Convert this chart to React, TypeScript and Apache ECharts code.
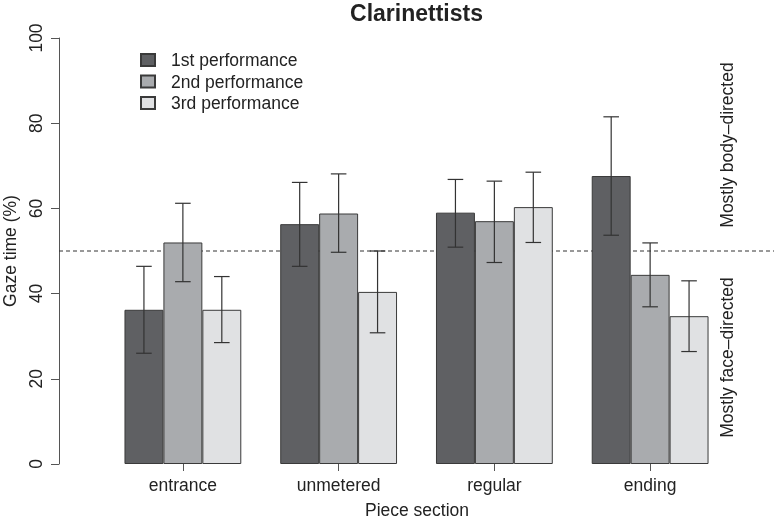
import React, { useEffect, useRef } from 'react';
import * as echarts from 'echarts';

const categories = ['entrance', 'unmetered', 'regular', 'ending'];
const seriesNames = ['1st performance', '2nd performance', '3rd performance'];
const meanFirst = [36.2, 56.3, 59.0, 67.6];
const meanSecond = [52.0, 58.8, 57.0, 44.4];
const meanThird = [36.2, 40.4, 60.3, 34.7];
const lowFirst = [26.0, 46.4, 50.9, 53.7];
const highFirst = [46.4, 66.1, 66.8, 81.5];
const lowSecond = [42.8, 49.7, 47.3, 36.9];
const highSecond = [61.2, 68.1, 66.4, 51.9];
const lowThird = [28.5, 30.8, 52.0, 26.4];
const highThird = [44.0, 50.0, 68.5, 43.0];
const referenceLevel = 50;
const yMin = 0;
const yMax = 100;
const yInterval = 20;

const colors = ['#5f6063', '#a9abae', '#e0e1e3'];
const FONT = "'Liberation Sans', Arial, Helvetica, sans-serif";

export default function App() {
  const ref = useRef<HTMLDivElement>(null);
  useEffect(() => {
    if (!ref.current) return;
    const chart = echarts.init(ref.current, null, { renderer: 'svg' });
    const means = [meanFirst, meanSecond, meanThird];
    const lows = [lowFirst, lowSecond, lowThird];
    const highs = [highFirst, highSecond, highThird];
    const errData: number[][] = [];
    for (let s = 0; s < 3; s++) {
      for (let c = 0; c < categories.length; c++) {
        errData.push([c, s, lows[s][c], highs[s][c]]);
      }
    }
    const barSeries = means.map((m, i) => ({
      type: 'bar',
      name: seriesNames[i],
      xAxisIndex: 0,
      yAxisIndex: 0,
      data: m,
      barGap: '0%',
      barCategoryGap: '25%',
      z: 3,
      itemStyle: { color: colors[i], borderColor: '#3a3a3a', borderWidth: 1 },
    }));
    chart.setOption({
      animation: false,
      textStyle: { fontFamily: FONT },
      grid: [
        { left: 105, right: 47, top: 38, bottom: 55 },
        { left: 59, right: 1, top: 38, bottom: 55 },
      ],
      legend: {
        data: seriesNames,
        orient: 'vertical',
        left: 140,
        top: 51,
        padding: 0,
        itemWidth: 14,
        itemHeight: 12,
        itemGap: 3.5,
        icon: 'rect',
        selectedMode: false,
        textStyle: { fontSize: 17.5, color: '#222', fontFamily: FONT, padding: [0, 0, 0, 11] },
      },
      xAxis: [
        {
          type: 'category',
          gridIndex: 0,
          data: categories,
          axisLine: { show: false },
          axisTick: { show: true, alignWithLabel: true, length: 7, lineStyle: { color: '#555' } },
          axisLabel: { fontSize: 17.5, color: '#222', margin: 12, fontFamily: FONT },
        },
        { type: 'value', gridIndex: 1, min: 0, max: 1, show: false },
      ],
      yAxis: [
        { type: 'value', gridIndex: 0, min: yMin, max: yMax, show: false },
        {
          type: 'value',
          gridIndex: 1,
          min: yMin,
          max: yMax,
          interval: yInterval,
          axisLine: { show: true, lineStyle: { color: '#555', width: 1 } },
          axisTick: { show: true, length: 8, lineStyle: { color: '#555' } },
          axisLabel: { rotate: 90, fontSize: 17.5, color: '#222', margin: 14, fontFamily: FONT },
          splitLine: { show: false },
        },
      ],
      series: [
        {
          type: 'line',
          xAxisIndex: 1,
          yAxisIndex: 1,
          data: [[0, referenceLevel], [1, referenceLevel]],
          symbol: 'none',
          silent: true,
          z: 1,
          lineStyle: { color: '#333', width: 1, type: [4, 3] },
        },
        ...barSeries,
        {
          type: 'custom',
          xAxisIndex: 0,
          yAxisIndex: 0,
          z: 5,
          silent: true,
          encode: { x: 0, y: [2, 3] },
          data: errData,
          renderItem: (params: any, api: any) => {
            const c = api.value(0);
            const s = api.value(1);
            const lo = api.coord([c, api.value(2)]);
            const hi = api.coord([c, api.value(3)]);
            const band = api.size([1, 0])[0];
            const bw = (band * 0.75) / 3;
            const x = lo[0] + (s - 1) * bw;
            const cap = bw * 0.2;
            const st = { stroke: '#333', lineWidth: 1.2 };
            return {
              type: 'group',
              children: [
                { type: 'line', shape: { x1: x, y1: lo[1], x2: x, y2: hi[1] }, style: st },
                { type: 'line', shape: { x1: x - cap, y1: lo[1], x2: x + cap, y2: lo[1] }, style: st },
                { type: 'line', shape: { x1: x - cap, y1: hi[1], x2: x + cap, y2: hi[1] }, style: st },
              ],
            };
          },
        },
      ],
      graphic: [
        {
          type: 'text', x: 416.5, y: 12.5,
          style: { text: 'Clarinettists', font: `bold 23px ${FONT}`, fill: '#222', textAlign: 'center', textVerticalAlign: 'middle' },
        },
        {
          type: 'text', x: 10, y: 251, rotation: Math.PI / 2,
          style: { text: 'Gaze time (%)', font: `17.5px ${FONT}`, fill: '#222', textAlign: 'center', textVerticalAlign: 'middle' },
        },
        {
          type: 'text', x: 417, y: 510,
          style: { text: 'Piece section', font: `17.5px ${FONT}`, fill: '#222', textAlign: 'center', textVerticalAlign: 'middle' },
        },
        {
          type: 'text', x: 727, y: 145, rotation: Math.PI / 2,
          style: { text: 'Mostly body–directed', font: `17.5px ${FONT}`, fill: '#222', textAlign: 'center', textVerticalAlign: 'middle' },
        },
        {
          type: 'text', x: 727, y: 357.5, rotation: Math.PI / 2,
          style: { text: 'Mostly face–directed', font: `17.5px ${FONT}`, fill: '#222', textAlign: 'center', textVerticalAlign: 'middle' },
        },
      ],
    });
    return () => chart.dispose();
  }, []);
  return <div ref={ref} style={{ position: 'fixed', left: 0, top: 0, width: 775, height: 519 }} />;
}
